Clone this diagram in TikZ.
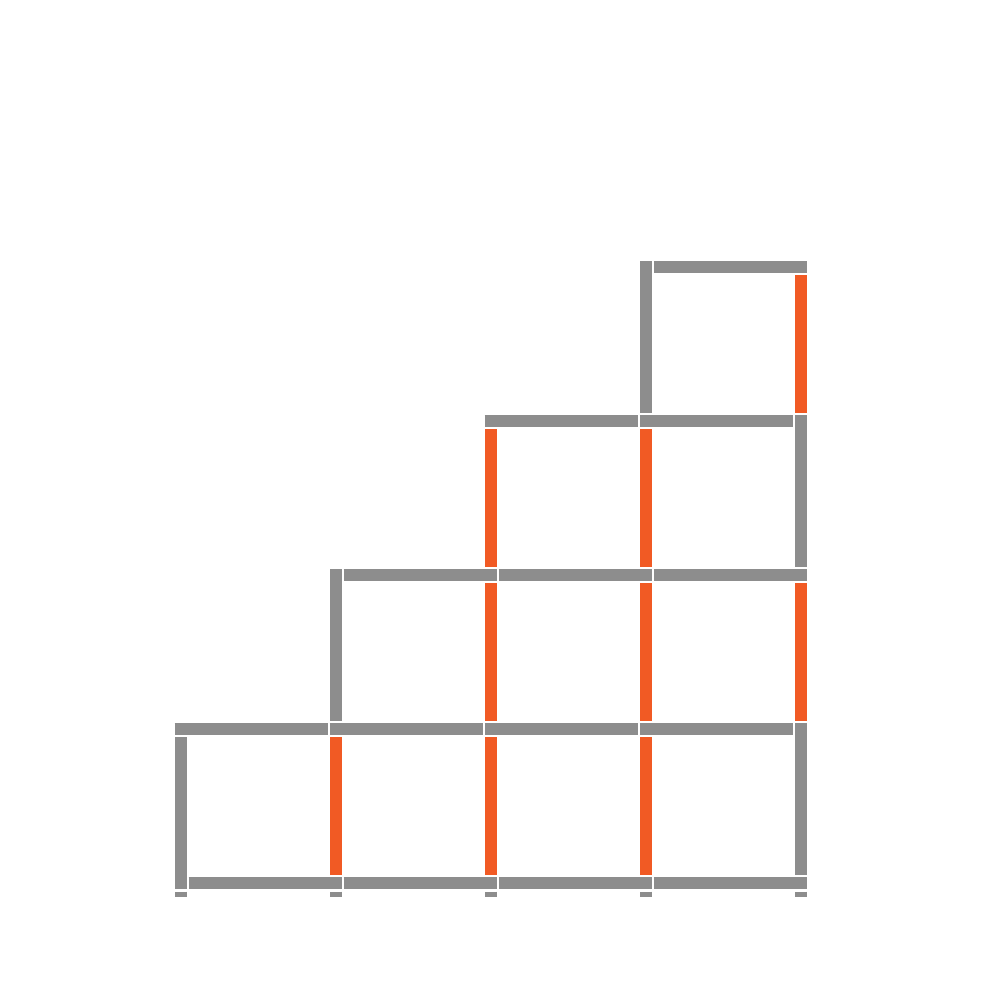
\documentclass[tikz,border=0pt]{standalone}
\usetikzlibrary{calc,positioning}
\definecolor{stickgray}{RGB}{141,141,141}
\definecolor{stickorange}{RGB}{241,90,36}

\begin{document}
\begin{tikzpicture} [x=0.1mm,y=-0.1mm,
  stick/.style={line width=1.2mm,color=stickgray},
  hot/.style={stick,color=stickorange},
  shortlong/.style={shorten <=0.8mm, shorten >=-0.6mm},
  longshort/.style={shorten <=-0.6mm, shorten >=0.8mm},
  shortshort/.style={shorten <=0.8mm, shorten >=0.8mm}]

\useasboundingbox (0,0) rectangle (1000,1000);

\def\cStep{155.1}
\def\rStep{153.9}

%% grid points, p-column-row, row 0 at the bottom
\foreach \i in {0,...,4}
  \foreach \j in {0,...,4}
    \coordinate (p-\i-\j) at ({180.5+\i*\cStep},{882.5-\j*\rStep});

%% horizontal sticks: from column / row / ends
\def\hsticks{0/0/shortlong, 1/0/shortlong, 2/0/shortlong, 3/0/shortlong,
  0/1/longshort, 1/1/longshort, 2/1/longshort, 3/1/longshort,
  1/2/shortlong, 2/2/shortlong, 3/2/shortlong,
  2/3/longshort, 3/3/longshort,
  3/4/shortlong}
\foreach \c/\r/\ends in \hsticks
{
  \pgfmathtruncatemacro\cn{\c+1}
  \draw [stick,\ends] (p-\c-\r) -- (p-\cn-\r);
}

%% vertical sticks: column / from row / ends / colour
\def\vsticks{0/0/longshort/stick,
  1/0/shortshort/hot, 1/1/shortlong/stick,
  2/0/shortshort/hot, 2/1/shortshort/hot, 2/2/shortshort/hot,
  3/0/shortshort/hot, 3/1/shortshort/hot, 3/2/shortshort/hot, 3/3/shortlong/stick,
  4/0/shortlong/stick, 4/1/shortshort/hot, 4/2/shortlong/stick, 4/3/shortshort/hot}
\foreach \c/\r/\ends/\kind in \vsticks
{
  \pgfmathtruncatemacro\rn{\r+1}
  \draw [\kind,\ends] (p-\c-\r) -- (p-\c-\rn);
}

%% small feet under the bottom row
\foreach \i in {0,...,4}
  \draw [stick] ($(p-\i-0)+(0,9)$) -- ($(p-\i-0)+(0,14)$);

\end{tikzpicture}
\end{document}
